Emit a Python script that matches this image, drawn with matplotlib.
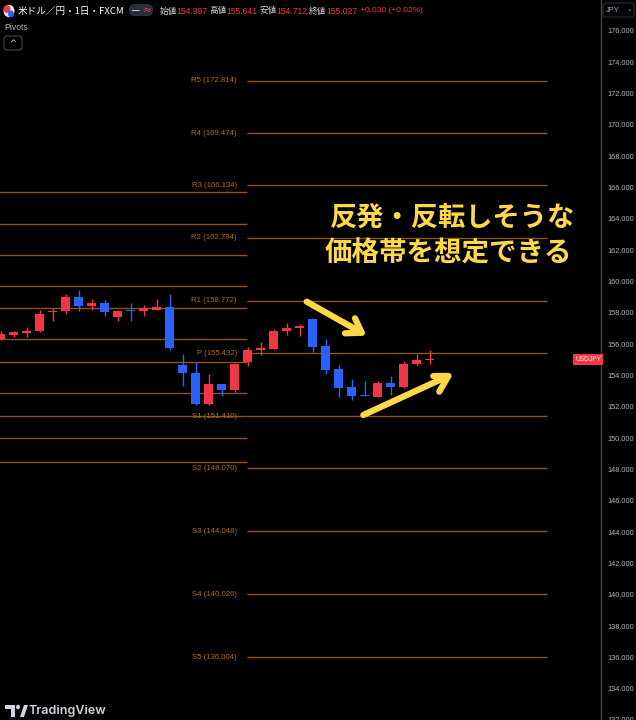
import numpy as np
import matplotlib
matplotlib.use('Agg')
from matplotlib import pyplot as plt
from matplotlib.patches import FancyBboxPatch, Polygon, Circle

plt.rcParams['font.family'] = ['Noto Sans CJK JP', 'DejaVu Sans']

# daily candles (USD/JPY), oldest first
opens = [156.34, 156.60, 156.73, 156.81, 158.07, 158.09, 159.04, 158.41, 158.62, 157.73,
         158.20, 158.11, 158.21, 158.37, 154.64, 154.16, 152.15, 153.43, 153.07, 154.84,
         155.60, 155.71, 156.81, 157.03, 157.58, 155.90, 154.41, 153.24, 152.74, 152.62,
         153.49, 153.24, 154.73, 154.997]
highs = [156.81, 156.86, 157.09, 158.20, 158.30, 159.22, 159.47, 158.88, 158.79, 158.18,
         158.62, 158.51, 158.90, 159.22, 155.37, 154.88, 154.09, 153.45, 154.78, 155.82,
         156.11, 156.96, 157.35, 157.28, 157.67, 156.33, 154.69, 153.79, 153.68, 153.62,
         153.94, 154.90, 155.37, 155.641]
lows = [156.24, 156.43, 156.47, 156.75, 157.51, 157.94, 158.15, 158.20, 157.83, 157.45,
        157.51, 157.77, 158.19, 155.62, 153.30, 152.09, 152.10, 152.71, 152.94, 154.62,
        155.28, 155.68, 156.56, 156.49, 155.53, 154.09, 152.60, 152.45, 152.67, 152.60,
        152.73, 153.17, 154.58, 154.712]
closes = [156.64, 156.75, 156.86, 157.92, 158.15, 159.04, 158.41, 158.62, 158.07, 158.15,
          158.13, 158.28, 158.37, 155.73, 154.13, 152.15, 153.43, 153.07, 154.75, 155.61,
          155.75, 156.86, 157.05, 157.19, 155.85, 154.37, 153.20, 152.71, 152.68, 153.52,
          153.24, 154.75, 155.00, 155.027]

# pivot levels: previous period (unlabelled) and current period
prev_pivots = [165.73, 163.68, 161.71, 159.73, 158.32, 156.34, 154.87, 152.89, 151.43, 150.03, 148.50]
pivot_names = ['R5', 'R4', 'R3', 'R2', 'R1', 'P', 'S1', 'S2', 'S3', 'S4', 'S5']
pivot_vals = [172.814, 169.474, 166.134, 162.794, 158.772, 155.432, 151.410, 148.070, 144.048, 140.026, 136.004]

yticks = list(range(132, 178, 2))

W, H = 636, 720
UP = '#f23645'
DOWN = '#2962ff'
LINE = '#8f5417'
LABEL = '#b06c1c'
YEL = '#ffd84a'


def px(x, y):
    return x / W, 1 - y / H


fig = plt.figure(figsize=(W / 100, H / 100), dpi=100, facecolor='black')
ax = fig.add_axes([0, 0, 601 / W, 1])
ax.set_facecolor('black')

# price scale: 15.67 px per yen, 176 at y=31
ax.set_ylim(176 - (H - 31) / 15.67, 176 + 31 / 15.67)
ax.set_xlim(-0.04, 46.19)

n = len(opens)
x = np.arange(n)
o = np.array(opens); c = np.array(closes)
cols = [UP if c[i] >= o[i] else DOWN for i in range(n)]
ax.vlines(x, lows, highs, colors=cols, lw=1, zorder=3)
bot = np.minimum(o, c)
hgt = np.maximum(np.abs(c - o), 0.07)
ax.bar(x, hgt, bottom=bot, width=0.72, color=cols, zorder=4)

# pivots
pstart, pend = 18.96, 42.04
ax.hlines(prev_pivots, -1, pstart, colors=LINE, lw=1.0, zorder=2)
ax.hlines(pivot_vals, pstart, pend, colors=LINE, lw=1.0, zorder=2)
for nm, v in zip(pivot_names, pivot_vals):
    ax.text(pstart - 0.77, v, f'{nm} ({v:.3f})', color=LABEL, fontsize=5.6,
            family='Liberation Sans', ha='right', va='center', zorder=5)

# right price axis
ax.yaxis.tick_right()
ax.set_yticks(yticks)
ax.set_yticklabels([f'{t:.3f}' for t in yticks], family='Liberation Sans', fontsize=5.3, color='#b2b5be')
ax.tick_params(axis='y', length=0, pad=4.3)
ax.set_xticks([])
for s in ['top', 'bottom', 'left']:
    ax.spines[s].set_visible(False)
ax.spines['right'].set_color('#434651')
ax.spines['right'].set_linewidth(1)

# last price tag
ax.text(1.0, closes[-1], 'USDJPY', transform=ax.get_yaxis_transform(), ha='right', va='center',
        fontsize=4.8, color='white', family='Liberation Sans', zorder=6,
        bbox=dict(boxstyle='square,pad=0.35', fc=UP, ec='none'))

# header
fig.patches.append(Circle(px(9, 11), 5.5 / W, transform=fig.transFigure, fc='#e8e8e8', ec='none'))
fig.patches.append(Circle(px(7, 9), 3.5 / W, transform=fig.transFigure, fc='#f23645', ec='none'))
fig.patches.append(Circle(px(11, 14), 3 / W, transform=fig.transFigure, fc='#2962ff', ec='none'))
fig.text(*px(18, 11), '米ドル／円・1日・FXCM', color='white', fontsize=6.9, va='center')
fig.patches.append(FancyBboxPatch(px(129, 16), 24 / W, 12 / H, boxstyle='round,pad=0,rounding_size=0.008',
                                  transform=fig.transFigure, fc='#2a2e39', ec='none'))
fig.text(*px(136, 10), '━', color='#d1d4dc', fontsize=5.5, ha='center', va='center')
fig.text(*px(147, 10), '≈', color='#f7525f', fontsize=6.5, ha='center', va='center')
hdr = [(159.3, '始値', '154.997'), (209.3, '高値', '155.641'), (259.3, '安値', '154.712'), (309.3, '終値', '155.027')]
for hx, lab, val in hdr:
    fig.text(*px(hx, 11), lab, color='#d1d4dc', fontsize=6.2, va='center')
    fig.text(*px(hx + 17, 11), val, color=UP, fontsize=6.2, va='center', family='Liberation Sans')
fig.text(*px(359.5, 11), '+0.030 (+0.02%)', color=UP, fontsize=6.0, va='center', family='Liberation Sans')
fig.text(*px(4, 27), 'Pivots', color='#b2b5be', fontsize=6.2, va='center', family='Liberation Sans')
fig.patches.append(FancyBboxPatch(px(4, 50), 18 / W, 14 / H, boxstyle='round,pad=0,rounding_size=0.004',
                                  transform=fig.transFigure, fc='black', ec='#434651', lw=0.8))
fig.text(*px(13, 44), '^', color='#d1d4dc', fontsize=6, ha='center', va='center', family='DejaVu Sans')

# currency box
fig.patches.append(FancyBboxPatch(px(603, 17), 31 / W, 14 / H, boxstyle='round,pad=0,rounding_size=0.004',
                                  transform=fig.transFigure, fc='black', ec='#2a2e39', lw=0.8))
fig.text(*px(606, 10), 'JPY', color='#b2b5be', fontsize=5.3, va='center', family='Liberation Sans')
fig.text(*px(629, 9), '⌄', color='#b2b5be', fontsize=5, ha='center', va='center', family='DejaVu Sans')

# annotation
fig.text(*px(452.5, 218), '反発・反転しそうな', color=YEL, fontsize=19.6, weight='bold', ha='center', va='center')
fig.text(*px(448.5, 254), '価格帯を想定できる', color=YEL, fontsize=19.8, weight='bold', ha='center', va='center')
arrows = [((306.7, 301.7), (361.7, 332.7)), ((363.3, 415.0), (448.3, 376.0))]
for (x0, y0), (x1, y1) in arrows:
    fig.add_artist(plt.Line2D([x0 / W, x1 / W], [1 - y0 / H, 1 - y1 / H], transform=fig.transFigure,
                              color=YEL, lw=4.5, solid_capstyle='round'))
heads = [[(355, 318.3), (361.7, 332.7), (345, 333.3)], [(433.3, 376), (448.3, 376), (439.3, 391.7)]]
for hd in heads:
    fig.add_artist(plt.Line2D([p[0] / W for p in hd], [1 - p[1] / H for p in hd], transform=fig.transFigure,
                              color=YEL, lw=4.5, solid_capstyle='round', solid_joinstyle='round'))

# TradingView mark
fig.patches.append(Polygon([px(5, 705), px(15, 705), px(15, 717), px(11, 717), px(11, 709), px(5, 709)],
                           closed=True, transform=fig.transFigure, fc='#d1d4dc', ec='none'))
fig.patches.append(Circle(px(18, 707), 2 / W, transform=fig.transFigure, fc='#d1d4dc', ec='none'))
fig.patches.append(Polygon([px(20, 717), px(24, 705), px(28, 705), px(24, 717)],
                           closed=True, transform=fig.transFigure, fc='#d1d4dc', ec='none'))
fig.text(*px(29, 711), 'TradingView', color='#d1d4dc', fontsize=9, va='center', family='Inter', weight='semibold')

fig.savefig('out.png', dpi=100, facecolor='black')
